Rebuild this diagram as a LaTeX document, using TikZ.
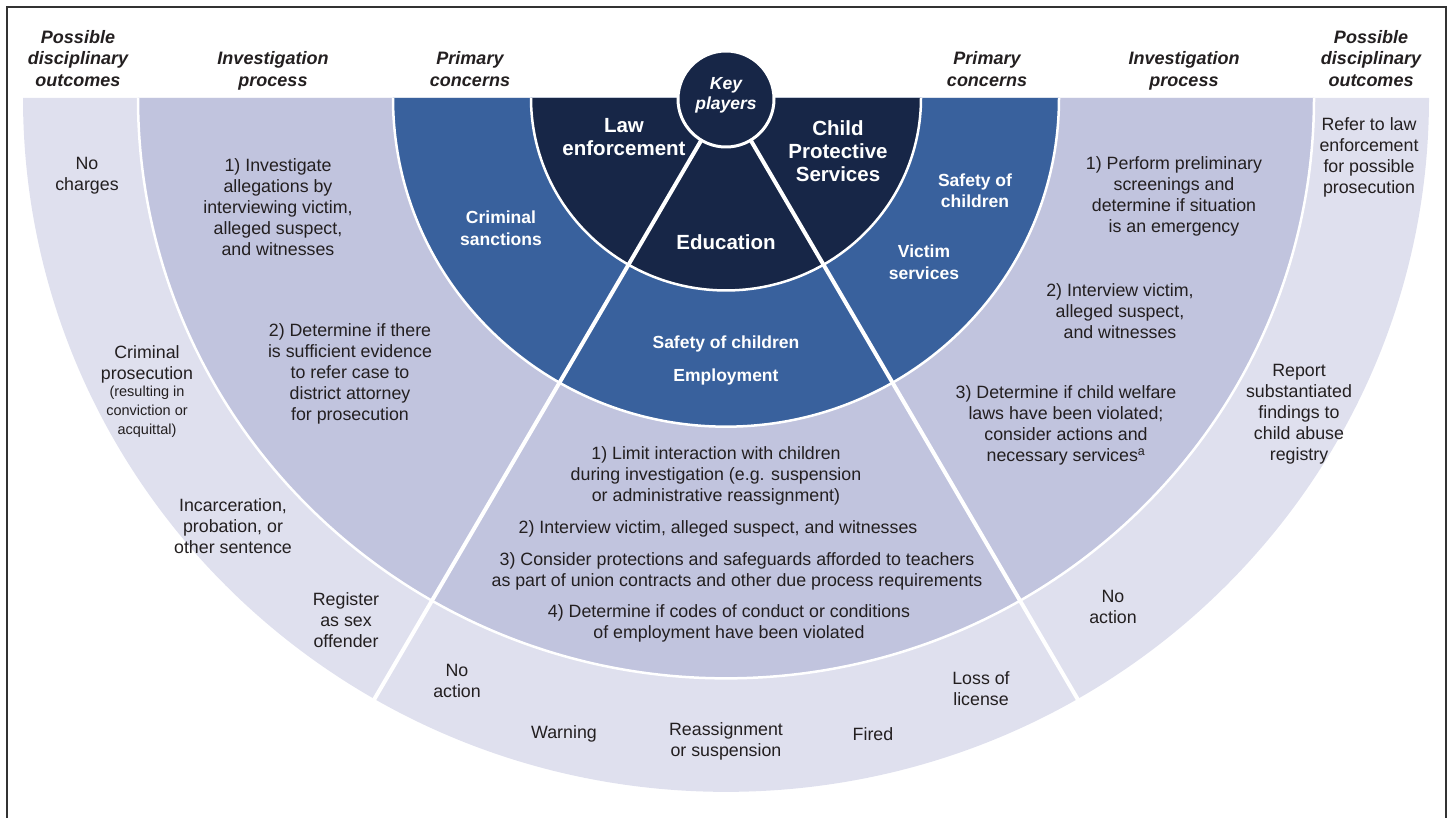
\documentclass[tikz,border=0pt]{standalone}
\usepackage{fontspec}
\setmainfont{Liberation Sans}
\definecolor{ringlight}{RGB}{223,224,238}
\definecolor{ringlav}{RGB}{193,196,222}
\definecolor{ringblue}{RGB}{57,97,157}
\definecolor{ringdark}{RGB}{23,38,71}
\definecolor{txt}{RGB}{35,31,32}
\begin{document}
\begin{tikzpicture}[x=1pt,y=1pt,
  hdr/.style={font=\bfseries\itshape\fontsize{18}{21.5}\selectfont, align=center, text=txt, inner sep=0pt},
  body/.style={font=\fontsize{17.8}{21}\selectfont, align=center, text=txt, inner sep=0pt, yshift=-2pt},
  smallbody/.style={font=\fontsize{14.5}{19}\selectfont, align=center, text=txt, inner sep=0pt, yshift=-1pt},
  keyp/.style={font=\bfseries\fontsize{20.5}{23}\selectfont, align=center, text=white, inner sep=0pt},
  conc/.style={font=\bfseries\fontsize{17.5}{21.5}\selectfont, align=center, text=white, inner sep=0pt},
  sepline/.style={white, line width=2.5pt},
  divline/.style={white, line width=4pt}]
\useasboundingbox (0,0) rectangle (1452,-818);
% frame
\draw[line width=2pt, black!80] (7,-830) -- (7,-7) -- (1446,-7) -- (1446,-830);
% rings
\begin{scope}[shift={(726,-98)}, yscale=0.987]
  \fill[ringlight] (180:703) arc[start angle=180, end angle=360, radius=703] -- cycle;
  \fill[ringlav] (180:588) arc[start angle=180, end angle=360, radius=588] -- cycle;
  \fill[ringblue] (180:333) arc[start angle=180, end angle=360, radius=333] -- cycle;
  \fill[ringdark] (180:195) arc[start angle=180, end angle=360, radius=195] -- cycle;
  \draw[sepline] (180:588) arc[start angle=180, end angle=360, radius=588];
  \draw[sepline] (180:333) arc[start angle=180, end angle=360, radius=333];
  \draw[sepline] (180:195) arc[start angle=180, end angle=360, radius=195];
  \draw[divline] (240:45) -- (240:704);
  \draw[divline] (300:45) -- (300:704);
\end{scope}
\draw[white, line width=3pt, fill=ringdark] (726,-99) circle[radius=48];
% headers
\node[hdr] (hL1) at (78,-58.3) {Possible\\disciplinary\\outcomes};
\node[hdr] (hL2) at (273,-71) {Investigation\\process};
\node[hdr] (hL3) at (470,-69) {Primary\\concerns};
\node[hdr] (hR3) at (987,-69) {Primary\\concerns};
\node[hdr] (hR2) at (1184,-71) {Investigation\\process};
\node[hdr] (hR1) at (1371,-58.3) {Possible\\disciplinary\\outcomes};
% key players
\node[font=\bfseries\itshape\fontsize{17.5}{20}\selectfont, align=center, text=white, inner sep=0pt] (kp) at (726,-95) {Key\\players};
\node[keyp] (law) at (624,-137) {Law\\enforcement};
\node[keyp] (cps) at (838,-151) {Child\\Protective\\Services};
\node[keyp] (edu) at (726,-242) {Education};
% primary concerns
\node[conc] (crim) at (501,-228) {Criminal\\sanctions};
\node[conc] (safR) at (975,-190.5) {Safety of\\children};
\node[conc] (vict) at (924,-262) {Victim\\services};
\node[conc] (safB) at (726,-344) {Safety of children};
\node[conc] (empl) at (726,-377) {Employment};
% investigation left
\node[body] (L1) at (278,-205) {1) Investigate\\allegations by\\interviewing victim,\\alleged suspect,\\and witnesses};
\node[body] (L2) at (350,-372) {2) Determine if there\\is sufficient evidence\\to refer case to\\district attorney\\for prosecution};
% investigation bottom
\node[body] (B1) at (716,-474) {1) Limit interaction with children\\during investigation (e.g. suspension\\or administrative reassignment)};
\node[body] (B2) at (718,-527) {2) Interview victim, alleged suspect, and witnesses};
\node[body] (B3) at (737,-569.5) {3) Consider protections and safeguards afforded to teachers\\as part of union contracts and other due process requirements};
\node[body] (B4) at (729,-621.5) {4) Determine if codes of conduct or conditions\\of employment have been violated};
% investigation right
\node[body] (R1) at (1174,-194.5) {1) Perform preliminary\\screenings and\\determine if situation\\is an emergency};
\node[body] (R2) at (1120,-309) {2) Interview victim,\\alleged suspect,\\and witnesses};
\node[body] (R3) at (1066,-423.5) {3) Determine if child welfare\\laws have been violated;\\consider actions and\\necessary services\textsuperscript{a}};
% outcomes left
\node[body] (OL1) at (87,-173.5) {No\\charges};
\node[body] (OL2) at (147,-362.5) {Criminal\\prosecution};
\node[smallbody] (OL2b) at (147,-411) {(resulting in\\conviction or\\acquittal)};
\node[body] (OL3) at (233,-524) {Incarceration,\\probation, or\\other sentence};
\node[body] (OL4) at (346,-618) {Register\\as sex\\offender};
% outcomes bottom
\node[body] (OB1) at (457,-679) {No\\action};
\node[body] (OB2) at (564,-732) {Warning};
\node[body] (OB3) at (726,-739.5) {Reassignment\\or suspension};
\node[body] (OB4) at (873,-732) {Fired};
\node[body] (OB5) at (981,-686.5) {Loss of\\license};
% outcomes right
\node[body] (OR1) at (1369,-155.5) {Refer to law\\enforcement\\for possible\\prosecution};
\node[body] (OR2) at (1299,-412) {Report\\substantiated\\findings to\\child abuse\\registry};
\node[body] (OR3) at (1113,-604.5) {No\\action};
\end{tikzpicture}
\end{document}
